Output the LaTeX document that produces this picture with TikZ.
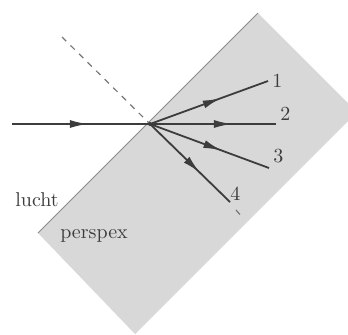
\documentclass[tikz,border=0pt]{standalone}
\usepackage{tikz}
\usetikzlibrary{arrows.meta,decorations.markings}
\definecolor{slabgray}{RGB}{216,216,216}
\definecolor{raygray}{RGB}{60,60,60}

\begin{document}
\begin{tikzpicture}[x=0.5pt, y=-0.5pt, every node/.style={font=\normalsize, text=raygray},
    ray/.style={draw=raygray, line width=0.9pt},
    midarrow/.style={postaction={decorate}, decoration={markings,
      mark=at position #1 with {\arrow{Latex[length=9pt,width=4pt]}}}}]
        \useasboundingbox (0,0) rectangle (348,334);
        \clip (0,0) rectangle (348,334);

        % Perspex slab
        \fill[slabgray] (38,233) -- (258,13) -- (357,112) -- (135,334) -- cycle;
        \draw[raygray!60, line width=0.5pt] (38,233) -- (258,13);

        % Points
        \coordinate (in) at (12,124);
        \coordinate (O) at (150,124);
        \coordinate (n1) at (62,37);
        \coordinate (n2) at (243,218);
        \coordinate (n3) at (236,210);
        \coordinate (r1) at (268,81);
        \coordinate (r2) at (276,124);
        \coordinate (r3) at (269,168);
        \coordinate (r4) at (230,202);

        % Normal
        \draw[raygray!70, dashed, line width=0.6pt] (n1) -- (O);
        \draw[raygray!70, dashed, line width=0.6pt] (n3) -- (n2);

        % Incoming ray
        \draw[ray, midarrow=0.55] (in) -- (O);

        % Outgoing rays
        \draw[ray, midarrow=0.6] (O) -- (r1);
        \draw[ray, midarrow=0.65] (O) -- (r2);
        \draw[ray, midarrow=0.6] (O) -- (r3);
        \draw[ray, midarrow=0.62] (O) -- (r4);
        \fill[raygray] (O) circle (2);

        % Labels
        \node[anchor=west, inner sep=2pt] (l1) at (r1) {1};
        \node[anchor=west, inner sep=2pt] (l2) at ([yshift=5]r2) {2};
        \node[anchor=west, inner sep=2pt] (l3) at ([yshift=6]r3) {3};
        \node[anchor=west, inner sep=0pt] (l4) at ([yshift=4]r4) {4};
        \node (lucht) at (37,200) {lucht};
        \node (perspex) at (94,236) {perspex};
      \end{tikzpicture}
\end{document}
